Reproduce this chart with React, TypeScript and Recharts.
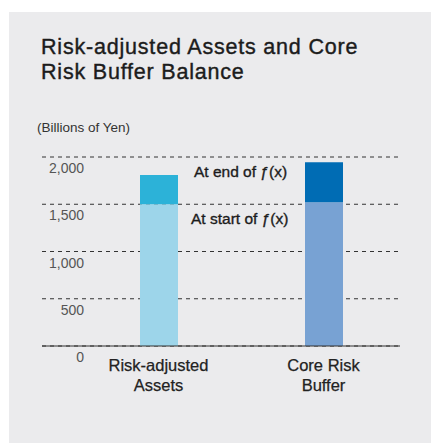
import React from 'react';
import {
  BarChart,
  Bar,
  XAxis,
  YAxis,
  CartesianGrid,
  Cell,
  LabelList,
} from 'recharts';

const categories = ['Risk-adjusted\nAssets', 'Core Risk\nBuffer'];
const startValues = [1500, 1520];
const endValues = [1810, 1945];
const yTicks = [0, 500, 1000, 1500, 2000];
const startLabel = 'At start of ƒ(x)';
const endLabel = 'At end of ƒ(x)';

const startColors = ['#9dd5ea', '#78a2d3'];
const endColors = ['#2cb2d8', '#006cb4'];

const data = categories.map((name, i) => ({
  name,
  start: startValues[i],
  increase: endValues[i] - startValues[i],
}));

const FONT = '"Liberation Sans", Arial, Helvetica, sans-serif';

const YTick = (props: any) => {
  const { x, y, payload } = props;
  return (
    <text
      x={x + 42}
      y={y + 16}
      textAnchor="end"
      fontSize={14}
      fill="#555"
      fontFamily={FONT}
    >
      {Number(payload.value).toLocaleString('en-US')}
    </text>
  );
};

const XTick = (props: any) => {
  const { x, y, payload } = props;
  const lines = String(payload.value).split('\n');
  return (
    <text
      textAnchor="middle"
      fontSize={16.5}
      fill="#222"
      stroke="#222"
      strokeWidth={0.25}
      fontFamily={FONT}
    >
      {lines.map((l, i) => (
        <tspan key={i} x={x} y={y + 25 + i * 20}>
          {l}
        </tspan>
      ))}
    </text>
  );
};

// only the first bar carries the segment captions, drawn to its right
const segmentCaption = (text: string, dx: number, dy: number) => (props: any) => {
  const { x, y, width, index } = props;
  if (index !== 0) return null;
  return (
    <text
      x={x + width + dx}
      y={y + dy}
      fontSize={15.5}
      fill="#1c1c1c"
      stroke="#1c1c1c"
      strokeWidth={0.35}
      fontFamily={FONT}
    >
      {text}
    </text>
  );
};

export default function App() {
  return (
    <div style={{ position: 'absolute', left: 0, top: 0, width: 431, height: 443 }}>
      <div
        style={{
          position: 'absolute',
          left: 9,
          top: 12,
          width: 422,
          height: 431,
          background: '#ebebed',
        }}
      />
      <div
        style={{
          position: 'absolute',
          left: 41,
          top: 35,
          fontFamily: FONT,
          fontSize: 21.5,
          lineHeight: '25px',
          letterSpacing: 0.8,
          color: '#1c1c1c',
          WebkitTextStroke: '0.4px #1c1c1c',
        }}
      >
        Risk-adjusted Assets and Core
        <br />
        Risk Buffer Balance
      </div>
      <div
        style={{
          position: 'absolute',
          left: 37,
          top: 120,
          fontFamily: FONT,
          fontSize: 13.5,
          lineHeight: '16px',
          color: '#333',
        }}
      >
        (Billions of Yen)
      </div>
      <div style={{ position: 'absolute', left: 0, top: 0 }}>
        <BarChart
          width={431}
          height={443}
          data={data}
          margin={{ top: 157, right: 31, bottom: 96, left: 41 }}
        >
          <CartesianGrid
            vertical={false}
            stroke="#333"
            strokeDasharray="4 4"
          />
          <XAxis
            dataKey="name"
            height={1}
            tickSize={0}
            tickMargin={0}
            padding={{ left: 34, right: -6 }}
            axisLine={{ stroke: '#333', strokeWidth: 1 }}
            tickLine={false}
            tick={<XTick />}
            interval={0}
          />
          <YAxis
            width={1}
            domain={[0, 2000]}
            ticks={yTicks}
            tickSize={0}
            tickMargin={0}
            axisLine={false}
            tickLine={false}
            tick={<YTick />}
          />
          <Bar dataKey="start" stackId="a" barSize={38} isAnimationActive={false}>
            {data.map((_, i) => (
              <Cell key={i} fill={startColors[i]} />
            ))}
            <LabelList dataKey="start" content={segmentCaption(startLabel, 13, 20)} />
          </Bar>
          <Bar dataKey="increase" stackId="a" barSize={38} isAnimationActive={false}>
            {data.map((_, i) => (
              <Cell key={i} fill={endColors[i]} />
            ))}
            <LabelList dataKey="increase" content={segmentCaption(endLabel, 16, 2)} />
          </Bar>
        </BarChart>
      </div>
    </div>
  );
}
